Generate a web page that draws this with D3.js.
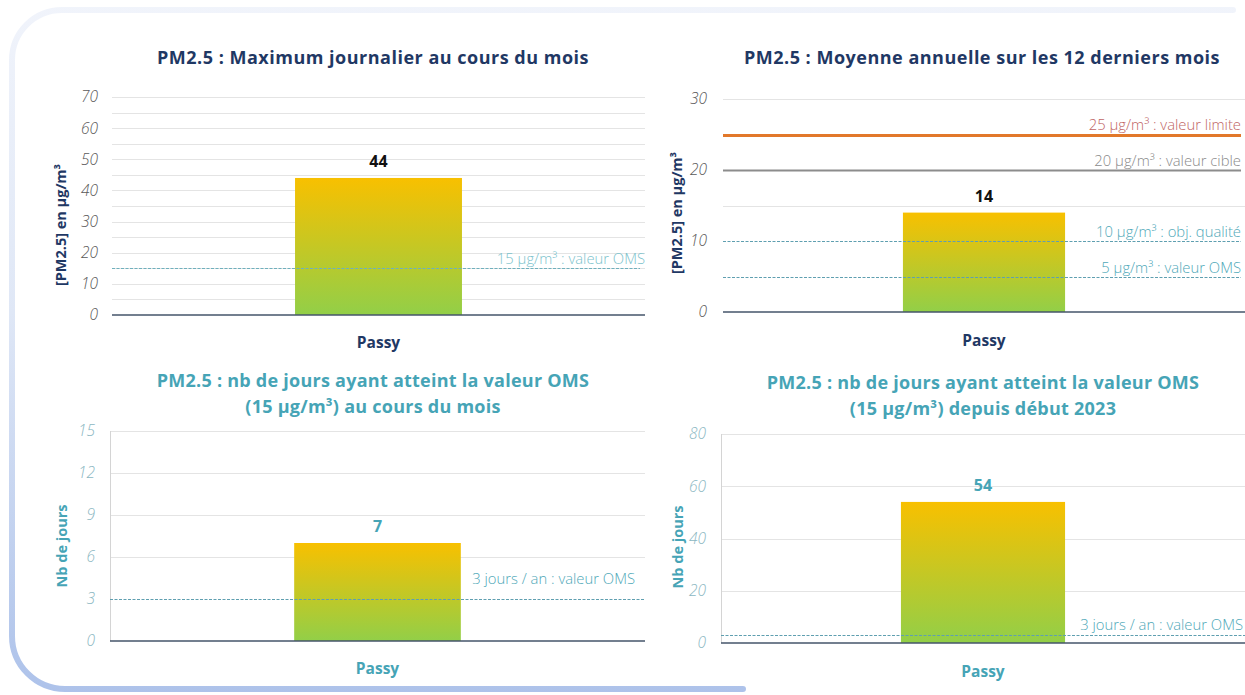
<!DOCTYPE html>
<html>
<head>
<meta charset="utf-8">
<script src="https://cdn.jsdelivr.net/npm/d3@7"></script>
<style>
  html, body { margin: 0; padding: 0; background: #ffffff; }
  svg { display: block; }
  text { font-family: "Open Sans", "Noto Sans", sans-serif; }
</style>
</head>
<body>
<svg id="chart" width="1245" height="695"></svg>
<script>
// ---------------- DATA ----------------
const categories = ["Passy"];
const maxDaily = [44];          // PM2.5 daily max over the month
const annualMean = [14];        // PM2.5 annual mean, last 12 months
const daysMonth = [7];          // days reaching WHO value this month
const daysYear = [54];          // days reaching WHO value since start of 2023

const ticksA = [0, 10, 20, 30, 40, 50, 60, 70];
const ticksB = [0, 10, 20, 30];
const ticksC = [0, 3, 6, 9, 12, 15];
const ticksD = [0, 20, 40, 60, 80];

const gridA = [5, 10, 15, 20, 25, 30, 35, 40, 45, 50, 55, 60, 65, 70];
const gridB = [15, 30];
const gridC = [6, 9, 12, 15];
const gridD = [20, 40, 60, 80];

const refValuesA = [15];
const refLabelsA = ["15 µg/m³ : valeur OMS"];
const refValuesB = [25, 20, 10, 5];
const refLabelsB = ["25 µg/m³ : valeur limite", "20 µg/m³ : valeur cible", "10 µg/m³ : obj. qualité", "5 µg/m³ : valeur OMS"];
const refValuesC = [3];
const refLabelsC = ["3 jours / an : valeur OMS"];
const refValuesD = [3];
const refLabelsD = ["3 jours / an : valeur OMS"];

const titlesA = ["PM2.5 : Maximum journalier au cours du mois"];
const titlesB = ["PM2.5 : Moyenne annuelle sur les 12 derniers mois"];
const titlesC = ["PM2.5 : nb de jours ayant atteint la valeur OMS", "(15 µg/m³) au cours du mois"];
const titlesD = ["PM2.5 : nb de jours ayant atteint la valeur OMS", "(15 µg/m³) depuis début 2023"];
const yTitleTop = "[PM2.5] en µg/m³";
const yTitleBottom = "Nb de jours";

// ---------------- STYLES ----------------
const NAVY = "#1f3864";
const TEAL = "#46a4b6";
const refStyles = {
  solidOrange: { stroke: "#e2782a", width: 3, dash: null, label: "#c06464" },
  solidGray:   { stroke: "#8c8c8c", width: 2, dash: null, label: "#8a8a8a" },
  dashTeal:    { stroke: "#5f9fb0", width: 1, dash: "3,1.5", label: "#4fa8b8" },
  dashTealLt:  { stroke: "#6fb0bd", width: 1, dash: "3,1.5", label: "#7cc2cc" }
};

const svg = d3.select("#chart");
const defs = svg.append("defs");

// bar gradient
const bg = defs.append("linearGradient").attr("id", "barGrad")
  .attr("x1", 0).attr("y1", 0).attr("x2", 0).attr("y2", 1);
bg.append("stop").attr("offset", "0%").attr("stop-color", "#f8c000");
bg.append("stop").attr("offset", "100%").attr("stop-color", "#92cf48");

// frame gradient
const fg = defs.append("linearGradient").attr("id", "frameGrad")
  .attr("gradientUnits", "userSpaceOnUse")
  .attr("x1", 0).attr("y1", 0).attr("x2", 0).attr("y2", 695);
fg.append("stop").attr("offset", "0%").attr("stop-color", "#f1f4fb");
fg.append("stop").attr("offset", "45%").attr("stop-color", "#dfe7f6");
fg.append("stop").attr("offset", "100%").attr("stop-color", "#adc2ea");

// frame
const framePath = d3.path();
framePath.moveTo(1233, 10);
framePath.lineTo(62, 10);
framePath.arcTo(12, 10, 12, 60, 50);
framePath.lineTo(12, 636);
framePath.arcTo(12, 689, 65, 689, 53);
framePath.lineTo(743, 689);
svg.append("path").attr("d", framePath.toString())
  .attr("fill", "none").attr("stroke", "url(#frameGrad)")
  .attr("stroke-width", 6).attr("stroke-linecap", "round");

// ---------------- PANELS ----------------
function panel(cfg) {
  const g = svg.append("g");
  const x = d3.scaleBand().domain(categories).range([cfg.x0, cfg.x1])
    .paddingInner(cfg.pad).paddingOuter(cfg.pad);
  const y = d3.scaleLinear().domain([0, cfg.max]).range([cfg.yBottom, cfg.yTop]);

  // gridlines
  g.append("g").selectAll("line").data(cfg.grid).join("line")
    .attr("x1", cfg.x0).attr("x2", cfg.gridEnd)
    .attr("y1", d => Math.round(y(d)) + 0.5).attr("y2", d => Math.round(y(d)) + 0.5)
    .attr("stroke", "#e4e4e4").attr("stroke-width", 1);

  // left axis line (bottom panels)
  if (cfg.leftLine) {
    g.append("line").attr("x1", cfg.x0 + 0.5).attr("x2", cfg.x0 + 0.5)
      .attr("y1", y(cfg.max)).attr("y2", y(0))
      .attr("stroke", "#d4d4d4").attr("stroke-width", 1);
  }

  // y axis tick labels
  const axis = d3.axisLeft(y).tickValues(cfg.ticks).tickSize(0).tickPadding(cfg.tickPad);
  const ag = g.append("g").attr("transform", `translate(${cfg.x0},0)`).call(axis);
  ag.select(".domain").remove();
  ag.selectAll("text")
    .attr("font-family", "'Open Sans', sans-serif")
    .attr("font-style", "italic").attr("font-weight", 300)
    .attr("font-size", 15.5).attr("fill", cfg.tickColor);

  // bars
  g.append("g").selectAll("rect").data(cfg.values).join("rect")
    .attr("x", (d, i) => x(categories[i]))
    .attr("width", x.bandwidth())
    .attr("y", d => y(d))
    .attr("height", d => y(0) - y(d))
    .attr("fill", "url(#barGrad)");

  // reference lines
  cfg.refValues.forEach((v, i) => {
    const st = refStyles[cfg.refStyles[i]];
    const yy = Math.round(y(v)) + 0.5;
    const ln = g.append("line").attr("x1", cfg.x0).attr("x2", cfg.refEnd)
      .attr("y1", yy).attr("y2", yy)
      .attr("stroke", st.stroke).attr("stroke-width", st.width);
    if (st.dash) ln.attr("stroke-dasharray", st.dash);
    g.append("text").attr("x", cfg.refLabelX).attr("y", yy - cfg.refLabelOff[i])
      .attr("text-anchor", "end").attr("font-size", 14.8).attr("font-weight", 300)
      .attr("fill", st.label).text(cfg.refLabels[i]);
  });

  // baseline
  g.append("line").attr("x1", cfg.x0).attr("x2", cfg.baseEnd)
    .attr("y1", y(0)).attr("y2", y(0))
    .attr("stroke", "#44546a").attr("stroke-width", 1.5);

  // value labels
  g.append("g").selectAll("text").data(cfg.values).join("text")
    .attr("x", (d, i) => x(categories[i]) + x.bandwidth() / 2)
    .attr("y", d => y(d) - 11)
    .attr("text-anchor", "middle").attr("font-size", 16).attr("font-weight", 700)
    .attr("fill", cfg.valueColor).text(d => d);

  // category labels
  g.append("g").selectAll("text").data(categories).join("text")
    .attr("x", d => x(d) + x.bandwidth() / 2)
    .attr("y", cfg.catY)
    .attr("text-anchor", "middle").attr("font-size", 15.5).attr("font-weight", 700)
    .attr("fill", cfg.catColor).text(d => d);

  // titles
  cfg.titles.forEach((t, i) => {
    g.append("text").attr("x", cfg.titleX).attr("y", cfg.titleY + i * 26)
      .attr("text-anchor", "middle").attr("font-size", 18).attr("font-weight", 700)
      .attr("letter-spacing", cfg.titleSpacing)
      .attr("fill", cfg.titleColor).text(t);
  });

  // y title
  g.append("text")
    .attr("transform", `translate(${cfg.yTitleX},${cfg.yTitleY}) rotate(-90)`)
    .attr("text-anchor", "middle").attr("font-size", 14.5).attr("font-weight", 700)
    .attr("fill", cfg.yTitleColor).text(cfg.yTitle);
}

panel({
  x0: 112, x1: 645, pad: 0.523, gridEnd: 645, refEnd: 640, baseEnd: 645,
  yTop: 97, yBottom: 315, max: 70, ticks: ticksA, grid: gridA, tickPad: 14,
  tickColor: "#595959", values: maxDaily,
  refValues: refValuesA, refLabels: refLabelsA, refStyles: ["dashTealLt"],
  refLabelX: 645, refLabelOff: [5],
  valueColor: "#111111", catY: 348, catColor: NAVY,
  titles: titlesA, titleX: 373, titleY: 64, titleColor: NAVY, titleSpacing: 0.5,
  yTitle: yTitleTop, yTitleX: 66, yTitleY: 225, yTitleColor: NAVY, leftLine: false
});

panel({
  x0: 723, x1: 1245, pad: 0.526, gridEnd: 1245, refEnd: 1241, baseEnd: 1245,
  yTop: 99, yBottom: 312, max: 30, ticks: ticksB, grid: gridB, tickPad: 16,
  tickColor: "#595959", values: annualMean,
  refValues: refValuesB, refLabels: refLabelsB,
  refStyles: ["solidOrange", "solidGray", "dashTeal", "dashTeal"],
  refLabelX: 1241, refLabelOff: [6, 5, 5, 5],
  valueColor: "#111111", catY: 346, catColor: NAVY,
  titles: titlesB, titleX: 982, titleY: 64, titleColor: NAVY, titleSpacing: 0.5,
  yTitle: yTitleTop, yTitleX: 682, yTitleY: 213, yTitleColor: NAVY, leftLine: false
});

panel({
  x0: 110, x1: 645, pad: 0.525, gridEnd: 645, refEnd: 645, baseEnd: 645,
  yTop: 431, yBottom: 641, max: 15, ticks: ticksC, grid: gridC, tickPad: 15,
  tickColor: "#8bb7c2", values: daysMonth,
  refValues: refValuesC, refLabels: refLabelsC, refStyles: ["dashTeal"],
  refLabelX: 635, refLabelOff: [16],
  valueColor: TEAL, catY: 674, catColor: TEAL,
  titles: titlesC, titleX: 373, titleY: 387, titleColor: TEAL, titleSpacing: 0.25,
  yTitle: yTitleBottom, yTitleX: 67, yTitleY: 546, yTitleColor: TEAL, leftLine: true
});

panel({
  x0: 721, x1: 1245, pad: 0.523, gridEnd: 1245, refEnd: 1245, baseEnd: 1245,
  yTop: 434, yBottom: 643, max: 80, ticks: ticksD, grid: gridD, tickPad: 15,
  tickColor: "#8bb7c2", values: daysYear,
  refValues: refValuesD, refLabels: refLabelsD, refStyles: ["dashTeal"],
  refLabelX: 1243, refLabelOff: [6],
  valueColor: TEAL, catY: 677, catColor: TEAL,
  titles: titlesD, titleX: 983, titleY: 389, titleColor: TEAL, titleSpacing: 0.25,
  yTitle: yTitleBottom, yTitleX: 683, yTitleY: 547, yTitleColor: TEAL, leftLine: true
});
</script>
</body>
</html>
